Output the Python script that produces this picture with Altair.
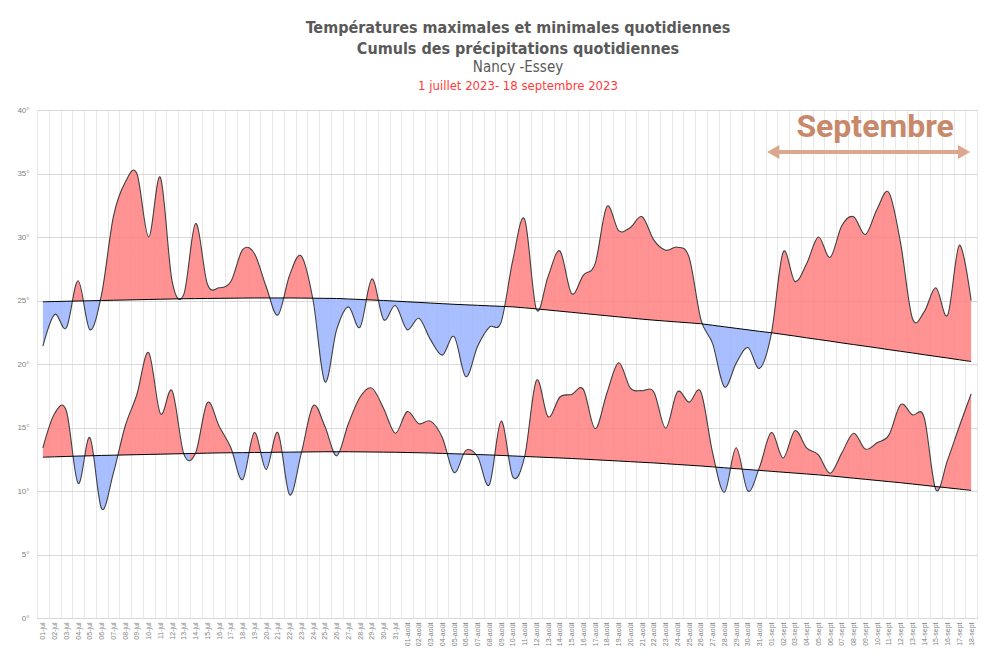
import altair as alt
import pandas as pd

# ---- tick labels (one per day, 1 July -> 18 September 2023)
labels_jul = [f"{d:02d}-jul" for d in range(1, 32)]
labels_aug = [f"{d:02d}-août" for d in range(1, 32)]
labels_sep = [f"{d:02d}-sept" for d in range(1, 19)]
day_labels = labels_jul + labels_aug + labels_sep

# ---- daily maximum temperatures (°C)
tmax = [21.4, 23.9, 22.85, 26.55, 22.7, 25.5, 31.6, 34.3, 35.0, 30.0,
        34.7, 26.5, 25.5, 31.06, 26.3, 26.0, 26.5, 29.0, 28.7, 26.1,
        23.85, 27.0, 28.5, 25.0, 18.6, 22.7, 24.5, 22.9, 26.7, 23.5,
        24.6, 22.7, 23.6, 21.9, 20.7, 22.15, 19.0, 21.4, 22.9, 23.3,
        28.2, 31.4, 24.3, 26.9, 28.9, 25.55, 27.0, 27.9, 32.4, 30.5,
        30.75, 31.6, 29.75, 28.96, 29.2, 28.4, 23.5, 21.6, 18.2, 20.05,
        21.3, 19.66, 22.4, 28.8, 26.5, 27.9, 30.0, 28.4, 30.9, 31.6,
        30.2, 32.2, 33.5, 29.5, 23.6, 24.1, 26.0, 23.85, 29.35, 25.0]

# ---- daily minimum temperatures (°C)
tmin = [13.4, 16.1, 16.3, 10.6, 14.2, 8.6, 11.4, 15.1, 17.6, 20.9,
        16.1, 17.9, 12.9, 13.0, 16.96, 15.1, 13.4, 10.9, 14.6, 11.7,
        14.6, 9.7, 13.0, 16.7, 15.1, 12.77, 15.3, 17.4, 18.1, 16.5,
        14.55, 16.25, 15.3, 15.5, 14.2, 11.45, 13.2, 12.7, 10.5, 15.5,
        11.1, 12.7, 18.7, 15.85, 17.4, 17.6, 18.0, 14.9, 17.7, 20.1,
        18.1, 17.9, 17.8, 14.95, 17.8, 17.0, 17.8, 13.0, 9.9, 13.4,
        10.0, 11.9, 14.6, 12.6, 14.75, 13.4, 12.85, 11.4, 13.0, 14.55,
        13.3, 13.8, 14.4, 16.8, 16.0, 15.8, 10.1, 12.45, 15.1, 17.65]

# ---- normal maximum temperatures (°C)
norm_max = [24.9, 24.92, 24.94, 24.96, 24.98, 25.0, 25.02, 25.04, 25.06, 25.08,
            25.1, 25.12, 25.14, 25.15, 25.16, 25.17, 25.18, 25.19, 25.2, 25.2,
            25.2, 25.2, 25.19, 25.18, 25.17, 25.16, 25.12, 25.08, 25.04, 25.0,
            24.95, 24.9, 24.85, 24.8, 24.75, 24.7, 24.66, 24.62, 24.58, 24.54,
            24.5, 24.42, 24.34, 24.25, 24.16, 24.07, 23.98, 23.89, 23.8, 23.71,
            23.62, 23.53, 23.45, 23.38, 23.31, 23.24, 23.17, 23.05, 22.93, 22.81,
            22.69, 22.57, 22.46, 22.33, 22.2, 22.06, 21.93, 21.8, 21.66, 21.53,
            21.4, 21.27, 21.13, 21.0, 20.87, 20.73, 20.6, 20.47, 20.33, 20.2]

# ---- normal minimum temperatures (°C)
norm_min = [12.66, 12.69, 12.72, 12.75, 12.77, 12.8, 12.82, 12.84, 12.86, 12.88,
            12.9, 12.92, 12.94, 12.96, 12.98, 13.0, 13.01, 13.02, 13.03, 13.04,
            13.05, 13.06, 13.07, 13.08, 13.09, 13.09, 13.09, 13.08, 13.07, 13.06,
            13.05, 13.03, 13.01, 12.99, 12.96, 12.93, 12.9, 12.87, 12.84, 12.8,
            12.76, 12.72, 12.68, 12.64, 12.6, 12.56, 12.51, 12.46, 12.41, 12.36,
            12.31, 12.26, 12.21, 12.15, 12.09, 12.03, 11.97, 11.9, 11.83, 11.76,
            11.69, 11.62, 11.55, 11.48, 11.41, 11.34, 11.27, 11.19, 11.1, 11.01,
            10.92, 10.83, 10.74, 10.65, 10.55, 10.45, 10.35, 10.25, 10.15, 10.05]

y_ticks = [0, 5, 10, 15, 20, 25, 30, 35, 40]

N = len(day_labels)
df = pd.DataFrame({"i": list(range(N)), "label": day_labels, "tmax": tmax,
                   "tmin": tmin, "nmax": norm_max, "nmin": norm_min})

RED = "#FF8080"
BLUE = "#99B3FF"
TITLE_FONT = "Liberation Sans Narrow, DejaVu Sans Condensed, Roboto, sans-serif"


def gradient_for(vals, norm):
    d = [v - m for v, m in zip(vals, norm)]
    col = lambda x: RED if x >= 0 else BLUE
    stops = [alt.GradientStop(offset=0, color=col(d[0]))]
    for k in range(len(d) - 1):
        if (d[k] >= 0) != (d[k + 1] >= 0):
            t = d[k] / (d[k] - d[k + 1])
            off = (k + t) / (len(d) - 1)
            stops.append(alt.GradientStop(offset=off, color=col(d[k])))
            stops.append(alt.GradientStop(offset=off, color=col(d[k + 1])))
    stops.append(alt.GradientStop(offset=1, color=col(d[-1])))
    return alt.LinearGradient(gradient="linear", stops=stops, x1=0, x2=1, y1=0, y2=0)


label_list = ",".join("'" + s + "'" for s in day_labels)
x_axis = alt.Axis(
    values=[k - 0.5 for k in range(N + 1)], tickCount=500,
    labelExpr=f"[{label_list}][round(datum.value + 0.5)] || ''",
    labelAngle=270, labelFontSize=7, labelColor="#7F7F7F", labelFont="Liberation Sans",
    labelOffset=5.9, labelPadding=4, labelOverlap=False, labelBound=False,
    grid=True, gridColor="#E8E8E8", gridWidth=1, ticks=False, domain=False, title=None,
)
y_axis = alt.Axis(
    values=y_ticks, labelExpr="datum.value + '°'", labelFontSize=8, labelColor="#7F7F7F",
    labelFont="Liberation Sans", labelPadding=8, grid=True, gridColor="#D9D9D9",
    ticks=False, domain=False, title=None,
)
xs = alt.Scale(domain=[-0.5, N - 0.5], nice=False, zero=False)
ys = alt.Scale(domain=[0, 40], nice=False)

base = alt.Chart(df)
X = alt.X("i:Q", scale=xs, axis=x_axis)

area_max = base.mark_area(interpolate="cardinal", tension=0, color=gradient_for(tmax, norm_max),
                          fillOpacity=0.85).encode(x=X, y=alt.Y("tmax:Q", scale=ys, axis=y_axis), y2="nmax:Q")
area_min = base.mark_area(interpolate="cardinal", tension=0, color=gradient_for(tmin, norm_min),
                          fillOpacity=0.85).encode(x=X, y=alt.Y("tmin:Q", scale=ys), y2="nmin:Q")

line_opts = dict(interpolate="cardinal", tension=0)
l_max = base.mark_line(color="#404040", strokeWidth=1.1, **line_opts).encode(x=X, y=alt.Y("tmax:Q", scale=ys))
l_min = base.mark_line(color="#404040", strokeWidth=1.1, **line_opts).encode(x=X, y=alt.Y("tmin:Q", scale=ys))
l_nmax = base.mark_line(color="#000000", strokeWidth=1, **line_opts).encode(x=X, y=alt.Y("nmax:Q", scale=ys))
l_nmin = base.mark_line(color="#000000", strokeWidth=1, **line_opts).encode(x=X, y=alt.Y("nmin:Q", scale=ys))

# ---- "Septembre" annotation
sep_text = pd.DataFrame({"x": [70.83], "y": [37.87], "t": ["Septembre"]})
txt = alt.Chart(sep_text).mark_text(font="Roboto", fontWeight="bold", fontSize=32, color="#C8896A",
                                    baseline="alphabetic", align="center").encode(
    x=alt.X("x:Q", scale=xs), y=alt.Y("y:Q", scale=ys), text="t:N")
arrow = pd.DataFrame({"x": [62.5], "x2": [78.0], "y": [36.69]})
arr_rule = alt.Chart(arrow).mark_rule(color="#DBA88E", strokeWidth=4).encode(
    x=alt.X("x:Q", scale=xs), x2="x2:Q", y=alt.Y("y:Q", scale=ys))
heads = pd.DataFrame({"x": [62.16, 78.4], "y": [36.69, 36.69], "s": ["triangle-left", "triangle-right"]})
arr_heads = alt.Chart(heads).mark_point(filled=True, size=200, opacity=1, color="#DBA88E").encode(
    x=alt.X("x:Q", scale=xs), y=alt.Y("y:Q", scale=ys),
    shape=alt.Shape("s:N", scale=None, legend=None))

date_txt = alt.Chart(pd.DataFrame({"t": ["1 juillet 2023- 18 septembre 2023"]})).mark_text(
    font=TITLE_FONT, fontSize=13, color="#FF3B3B", align="center",
    baseline="middle").encode(x=alt.value(481), y=alt.value(-24), text="t:N")

chart = alt.layer(area_max, area_min, l_max, l_min, l_nmax, l_nmin, arr_rule, arr_heads, txt, date_txt).properties(
    width=940, height=508,
    title=alt.TitleParams(
        text=["Températures maximales et minimales quotidiennes", "Cumuls des précipitations quotidiennes"],
        subtitle="Nancy -Essey",
        font=TITLE_FONT, fontSize=16, fontWeight="bold", color="#595959",
        subtitleFont=TITLE_FONT, subtitleFontSize=15, subtitleColor="#595959",
        anchor="middle", dx=11, offset=5, lineHeight=21, subtitlePadding=3,
    ),
    autosize=alt.AutoSizeParams(type="none"),
    padding={"left": 29, "top": 102, "right": 15, "bottom": 30},
).configure_view(stroke="#A6A6A6", strokeWidth=1)

chart.save("out.html", embed_options={"renderer": "svg", "actions": False})
